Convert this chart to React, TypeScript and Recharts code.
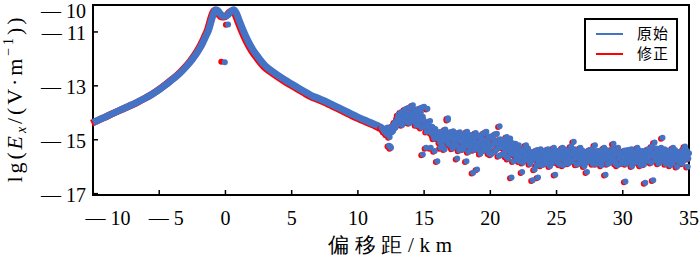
import { ComposedChart, Line, Scatter, XAxis, YAxis, ReferenceArea } from "recharts";

const BLUE = "#4472c4";
const RED = "#ff0000";
const SERIF = '"Liberation Serif", "Times New Roman", Times, "DejaVu Serif", "Noto Serif", serif';

const xTicks = [-10, -5, 0, 5, 10, 15, 20, 25, 30, 35];
const yTicks = [-10, -11, -13, -15, -17];

const seriesNames = ["原始", "修正"];

// smooth near-field part of the curve, [offset km, lg Ex]
const curve: [number, number][] = [
  [-10, -14.36], [-9.5, -14.25], [-9, -14.14], [-8.5, -14.02], [-8, -13.91],
  [-7.5, -13.8], [-7, -13.69], [-6.5, -13.57], [-6, -13.44], [-5.5, -13.3],
  [-5, -13.14], [-4.5, -12.96], [-4, -12.76], [-3.5, -12.56], [-3, -12.31],
  [-2.5, -12.02], [-2, -11.66], [-1.75, -11.44], [-1.5, -11.18], [-1.25, -10.9],
  [-1.05, -10.56], [-0.9, -10.32], [-0.75, -10.18], [-0.6, -10.2], [-0.4, -10.32],
  [-0.2, -10.41], [0, -10.42], [0.2, -10.36], [0.4, -10.24], [0.6, -10.18],
  [0.8, -10.28], [1, -10.52], [1.33, -10.93], [1.7, -11.33], [2.09, -11.67],
  [2.5, -11.95], [3, -12.25], [3.5, -12.45], [4, -12.62], [4.5, -12.78],
  [5, -12.93], [5.5, -13.08], [6, -13.22], [6.5, -13.36], [7, -13.46],
  [7.5, -13.56], [8, -13.68], [8.5, -13.8], [9, -13.92], [9.5, -14.04],
  [10, -14.16], [10.5, -14.27], [11, -14.37], [11.5, -14.48], [11.8, -14.56],
];

const spikesOrig: [number, number][] = [[0.2, -10.72], [-0.05, -12.12]];
const spikesFixed: [number, number][] = [[0.15, -10.7], [-0.2, -12.08]];

const noiseA: [number, number][] = [
  [11.8, -14.55], [11.9, -14.62], [12.0, -14.7], [12.1, -14.58], [12.2, -14.8],
  [12.3, -14.66], [12.35, -15.22], [12.4, -14.9], [12.5, -15.3], [12.55, -14.72],
  [12.6, -14.5], [12.7, -14.62], [12.8, -14.35], [12.9, -14.48], [13.0, -14.2],
  [13.1, -14.4], [13.2, -14.05], [13.3, -14.3], [13.4, -14.12], [13.5, -13.95],
  [13.6, -14.28], [13.7, -14.1], [13.8, -13.82], [13.9, -14.38], [14.0, -14.02],
  [14.1, -13.75], [14.2, -14.2], [14.3, -13.9], [14.4, -14.45], [14.5, -14.05],
  [14.6, -13.85], [14.7, -14.3], [14.8, -14.55], [14.9, -14.15], [15.0, -13.78],
  [15.1, -14.4], [15.2, -14.7], [15.3, -14.35], [15.4, -14.62], [15.5, -15.3],
  [15.6, -14.52], [15.7, -14.85], [15.8, -15.42], [15.9, -14.7], [16.0, -15.8],
];

const noiseA2: [number, number][] = [
  [12.05, -14.62], [12.15, -14.75], [12.25, -14.55], [12.45, -15.25], [12.65, -14.68],
  [12.75, -14.42], [12.85, -14.55], [12.95, -14.3], [13.05, -14.08], [13.15, -14.25],
  [13.25, -13.98], [13.35, -14.45], [13.45, -14.2], [13.55, -13.88], [13.65, -14.05],
  [13.75, -14.35], [13.85, -14.15], [13.95, -13.8], [14.05, -14.3], [14.15, -13.72],
  [14.25, -14.05], [14.35, -14.32], [14.45, -13.92], [14.55, -14.22], [14.65, -14.48],
  [14.75, -13.98], [14.85, -13.8], [14.95, -14.25], [15.05, -14.5], [15.15, -15.3],
  [15.25, -13.85], [15.35, -14.5], [15.45, -14.3], [15.55, -14.75], [15.65, -14.55],
  [15.75, -14.95], [15.85, -14.6], [15.95, -14.82], [14.9, -15.55], [16.8, -14.26],
];

const noiseB: [number, number][] = [
  [16.1, -14.82], [16.2, -15.1], [16.3, -14.7], [16.4, -15.25], [16.5, -14.9],
  [16.6, -14.62], [16.7, -15.05], [16.8, -14.2], [16.9, -14.85], [17.0, -15.2],
  [17.1, -14.95], [17.2, -14.68], [17.3, -15.12], [17.4, -14.8], [17.5, -15.7],
  [17.6, -15.0], [17.7, -14.72], [17.8, -15.28], [17.9, -14.9], [18.0, -15.15],
  [18.1, -14.78], [18.2, -15.8], [18.3, -15.05], [18.4, -14.85], [18.5, -15.3],
  [18.6, -14.95], [18.7, -16.22], [18.8, -15.1], [18.9, -14.75], [19.0, -16.1],
  [19.1, -15.35], [19.2, -14.9], [19.3, -15.18], [19.4, -14.8], [19.5, -15.4],
  [19.6, -15.02], [19.7, -14.7], [19.8, -15.25], [19.9, -15.5], [20.0, -14.95],
  [20.1, -15.2], [20.2, -14.85], [20.3, -15.45], [20.4, -15.05], [20.5, -14.78],
  [20.6, -15.3], [20.7, -14.5], [20.8, -15.12], [20.9, -15.55], [21.0, -15.0],
  [21.1, -15.32], [21.2, -15.62], [21.3, -15.1], [21.4, -15.4], [21.5, -14.95],
  [21.6, -16.4], [21.7, -15.25], [21.8, -15.55], [21.9, -15.15], [22.0, -15.72],
];

const noiseB2: [number, number][] = [
  [16.05, -14.95], [16.15, -14.72], [16.25, -15.3], [16.35, -14.88], [16.45, -15.05],
  [16.55, -15.35], [16.65, -14.8], [16.75, -14.98], [16.85, -15.15], [16.95, -14.72],
  [17.05, -14.9], [17.15, -15.32], [17.25, -15.0], [17.35, -14.75], [17.45, -15.22],
  [17.55, -14.88], [17.65, -15.4], [17.75, -15.05], [17.85, -14.82], [17.95, -15.35],
  [18.05, -14.95], [18.15, -15.22], [18.25, -14.7], [18.35, -15.45], [18.45, -15.1],
  [18.55, -14.82], [18.65, -15.2], [18.75, -15.38], [18.85, -14.92], [18.95, -15.25],
  [19.05, -14.85], [19.15, -15.1], [19.25, -15.52], [19.35, -14.98], [19.45, -15.22],
  [19.55, -14.75], [19.65, -15.35], [19.75, -15.08], [19.85, -14.88], [19.95, -15.3],
  [20.05, -15.55], [20.15, -14.92], [20.25, -15.15], [20.35, -14.8], [20.45, -15.38],
  [20.55, -15.1], [20.65, -15.6], [20.75, -14.98], [20.85, -15.28], [20.95, -15.05],
  [21.05, -15.5], [21.15, -15.18], [21.25, -14.9], [21.35, -15.7], [21.45, -15.3],
  [21.55, -15.52], [21.65, -15.12], [21.75, -15.8], [21.85, -15.38], [21.95, -15.6],
];

const noiseC: [number, number][] = [
  [22.1, -15.35], [22.2, -15.8], [22.3, -15.5], [22.4, -16.2], [22.5, -15.62],
  [22.6, -15.3], [22.7, -15.2], [22.8, -15.75], [22.9, -15.45], [23.0, -15.9],
  [23.1, -15.58], [23.2, -16.5], [23.3, -15.7], [23.4, -15.42], [23.5, -15.95],
  [23.6, -16.4], [23.7, -15.65], [23.8, -15.35], [23.9, -15.82], [24.0, -15.55],
  [24.1, -15.9], [24.2, -15.4], [24.3, -15.72], [24.4, -15.6], [24.5, -15.98],
  [24.6, -15.45], [24.7, -15.75], [24.8, -15.3], [24.9, -16.3], [25.0, -15.62],
  [25.1, -15.85], [25.2, -15.4], [25.3, -15.7], [25.4, -15.52], [25.5, -15.95],
  [25.6, -15.35], [25.7, -15.68], [25.8, -15.5], [25.9, -15.88], [26.0, -15.6],
  [26.1, -15.25], [26.2, -15.78], [26.3, -15.07], [26.4, -15.55], [26.5, -15.92],
  [26.6, -15.42], [26.7, -15.7], [26.8, -15.3], [26.9, -15.85], [27.0, -15.58],
  [27.1, -15.98], [27.2, -15.45], [27.3, -16.2], [27.4, -15.65], [27.5, -15.38],
  [27.6, -15.8], [27.7, -15.52], [27.8, -15.72], [27.9, -15.2], [28.0, -15.9],
];

const noiseC2: [number, number][] = [
  [22.05, -15.5], [22.15, -15.2], [22.25, -15.65], [22.35, -15.4], [22.45, -15.85],
  [22.55, -15.45], [22.65, -15.7], [22.75, -15.55], [22.85, -15.32], [22.95, -15.68],
  [23.05, -15.45], [23.15, -15.78], [23.25, -15.5], [23.35, -16.1], [23.45, -15.62],
  [23.55, -15.38], [23.65, -15.8], [23.75, -15.5], [23.85, -15.95], [23.95, -15.42],
  [24.05, -15.7], [24.15, -15.55], [24.25, -15.85], [24.35, -15.35], [24.45, -15.65],
  [24.55, -15.5], [24.65, -15.88], [24.75, -15.58], [24.85, -15.42], [24.95, -15.75],
  [25.05, -15.45], [25.15, -15.65], [25.25, -15.92], [25.35, -15.5], [25.45, -15.3],
  [25.55, -15.72], [25.65, -15.55], [25.75, -15.85], [25.85, -15.4], [25.95, -15.7],
  [26.05, -15.48], [26.15, -15.8], [26.25, -15.52], [26.35, -15.35], [26.45, -15.68],
  [26.55, -15.58], [26.65, -15.9], [26.75, -15.5], [26.85, -15.62], [26.95, -15.4],
  [27.05, -15.75], [27.15, -15.55], [27.25, -15.85], [27.35, -15.48], [27.45, -15.7],
  [27.55, -15.6], [27.65, -15.35], [27.75, -15.9], [27.85, -15.5], [27.95, -15.65],
];

const noiseD: [number, number][] = [
  [28.1, -15.55], [28.2, -15.75], [28.3, -15.4], [28.4, -15.95], [28.5, -15.62],
  [28.6, -15.3], [28.7, -16.3], [28.8, -15.7], [28.9, -15.48], [29.0, -15.85],
  [29.1, -15.6], [29.2, -15.35], [29.3, -15.15], [29.4, -15.78], [29.5, -15.52],
  [29.6, -15.95], [29.7, -15.42], [29.8, -15.68], [29.9, -15.88], [30.0, -15.5],
  [30.1, -15.72], [30.2, -16.55], [30.3, -15.6], [30.4, -15.38], [30.5, -15.82],
  [30.6, -15.55], [30.7, -15.98], [30.8, -15.45], [30.9, -15.7], [31.0, -15.6],
  [31.1, -15.3], [31.2, -15.85], [31.3, -15.5], [31.4, -15.75], [31.5, -15.42],
  [31.6, -15.92], [31.7, -16.6], [31.8, -15.62], [31.9, -15.35], [32.0, -15.8],
  [32.1, -15.55], [32.2, -15.25], [32.3, -16.5], [32.4, -15.1], [32.5, -15.68],
  [32.6, -15.45], [32.7, -15.88], [32.8, -15.58], [32.9, -15.3], [33.0, -14.93],
  [33.1, -15.72], [33.2, -15.5], [33.3, -15.85], [33.4, -15.4], [33.5, -15.65],
  [33.6, -15.95], [33.7, -15.52], [33.8, -15.3], [33.9, -15.75], [34.0, -15.6],
  [34.1, -16.0], [34.2, -15.45], [34.3, -15.7], [34.4, -15.55], [34.5, -15.88],
  [34.6, -15.35], [34.7, -15.25], [34.8, -15.62], [34.9, -16.0], [35.0, -15.5],
];

const noiseD2: [number, number][] = [
  [28.05, -15.42], [28.15, -15.7], [28.25, -15.58], [28.35, -15.85], [28.45, -15.45],
  [28.55, -15.72], [28.65, -15.55], [28.75, -15.38], [28.85, -15.9], [28.95, -15.6],
  [29.05, -15.45], [29.15, -15.75], [29.25, -15.62], [29.35, -15.4], [29.45, -15.88],
  [29.55, -15.55], [29.65, -15.3], [29.75, -15.7], [29.85, -15.5], [29.95, -15.82],
  [30.05, -15.62], [30.15, -15.4], [30.25, -15.9], [30.35, -15.68], [30.45, -15.52],
  [30.55, -15.78], [30.65, -15.35], [30.75, -15.6], [30.85, -15.85], [30.95, -15.48],
  [31.05, -15.72], [31.15, -15.55], [31.25, -15.4], [31.35, -15.95], [31.45, -15.62],
  [31.55, -15.5], [31.65, -15.8], [31.75, -15.45], [31.85, -15.7], [31.95, -15.58],
  [32.05, -15.38], [32.15, -15.85], [32.25, -15.6], [32.35, -15.48], [32.45, -15.75],
  [32.55, -15.32], [32.65, -15.62], [32.75, -15.5], [32.85, -15.8], [32.95, -15.45],
  [33.05, -15.65], [33.15, -15.35], [33.25, -15.9], [33.35, -15.55], [33.45, -15.72],
  [33.55, -15.42], [33.65, -15.6], [33.75, -15.85], [33.85, -15.5], [33.95, -15.38],
  [34.05, -15.7], [34.15, -15.55], [34.25, -15.82], [34.35, -15.45], [34.45, -15.65],
  [34.55, -15.4], [34.65, -15.75], [34.75, -15.55], [34.85, -15.42], [34.95, -15.7],
];

const toPts = (arr: [number, number][]) => arr.map(([x, y]) => ({ x, y }));

const farField = [
  ...noiseA, ...noiseA2, ...noiseB, ...noiseB2,
  ...noiseC, ...noiseC2, ...noiseD, ...noiseD2,
];

const curveData = toPts(curve);
const noiseOrig = toPts([...farField, ...spikesOrig]);
const noiseFixed = toPts([...farField, ...spikesFixed]);

const fmt = (v: number) => (v < 0 ? "\u2014 " + Math.abs(v) : String(v));

const serifStyle = { fontFamily: SERIF };

const XTick = ({ x, y, payload }: any) => {
  const v = payload.value;
  const shift = v === -10 ? 15 : v < 0 ? 7 : 0;
  return (
    <g>
      <line x1={x} y1={y} x2={x} y2={y - 5} stroke="#000" strokeWidth={1.5} />
      <text x={x + shift} y={y + 30} textAnchor="middle" fontSize={20} style={serifStyle} fill="#000">
        {fmt(v)}
      </text>
    </g>
  );
};

const YTick = ({ x, y, payload }: any) => {
  const v = payload.value;
  const dy = v === -10 ? 13 : 8;
  return (
    <g>
      <line x1={x} y1={y} x2={x + 5} y2={y} stroke="#000" strokeWidth={1.5} />
      <text x={x - 7} y={y + dy} textAnchor="end" fontSize={20} style={serifStyle} fill="#000">
        {fmt(v)}
      </text>
    </g>
  );
};

const YTitle = () => (
  <text
    transform="translate(22, 100) rotate(-90)"
    textAnchor="middle"
    fontSize={22}
    style={serifStyle}
    fill="#000"
    textLength={165}
    lengthAdjust="spacing"
  >
    lg(<tspan fontStyle="italic">E</tspan>
    <tspan fontStyle="italic" fontSize={14} dy={4}>x</tspan>
    <tspan dy={-4}>/(V·m</tspan>
    <tspan fontSize={14} dy={-9}>−1</tspan>
    <tspan dy={9}>))</tspan>
  </text>
);

const XTitle = () => (
  <text x={390} y={252} textAnchor="middle" fontSize={21} style={serifStyle} fill="#000" textLength={124} lengthAdjust="spacing">
    偏移距/km
  </text>
);

const dot = (color: string) => (p: any) => <circle cx={p.cx} cy={p.cy} r={3} fill={color} />;

const App = () => {
  return (
    <div style={{ position: "relative", width: 700, height: 256, background: "#fff" }}>
      <style>{"body{margin:0} .fixShift{transform:translate(-1.5px,0.8px)}"}</style>
      <ComposedChart width={700} height={256} margin={{ top: 5, right: 11, bottom: 0, left: 0 }}>
        <XAxis
          type="number"
          dataKey="x"
          domain={[-10, 35]}
          ticks={xTicks}
          interval={0}
          height={61}
          axisLine={false}
          tickLine={false}
          tickSize={0}
          tickMargin={0}
          tick={<XTick />}
          label={{ content: XTitle }}
        />
        <YAxis
          type="number"
          dataKey="y"
          domain={[-17.05, -10]}
          ticks={yTicks}
          interval={0}
          width={93}
          axisLine={false}
          tickLine={false}
          tickSize={0}
          tickMargin={0}
          tick={<YTick />}
          label={{ content: YTitle }}
        />
        <Line
          className="fixShift"
          data={curveData}
          dataKey="y"
          type="monotone"
          stroke={RED}
          strokeWidth={7}
          dot={false}
          activeDot={false}
          isAnimationActive={false}
          name={seriesNames[1]}
        />
        <Scatter
          className="fixShift"
          data={noiseFixed}
          fill={RED}
          shape={dot(RED)}
          isAnimationActive={false}
          name={seriesNames[1]}
        />
        <Line
          data={curveData}
          dataKey="y"
          type="monotone"
          stroke={BLUE}
          strokeWidth={7}
          dot={false}
          activeDot={false}
          isAnimationActive={false}
          name={seriesNames[0]}
        />
        <Scatter data={noiseOrig} fill={BLUE} shape={dot(BLUE)} isAnimationActive={false} name={seriesNames[0]} />
        <ReferenceArea x1={-10} x2={35} y1={-17.05} y2={-10} fill="none" stroke="#000" strokeWidth={2} />
      </ComposedChart>
      <div
        style={{
          position: "absolute",
          left: 584,
          top: 18,
          width: 90,
          height: 49,
          border: "2px solid #000",
          background: "#fff",
          fontFamily: '"Noto Sans CJK SC", sans-serif',
          fontSize: 15,
        }}
      >
        {[BLUE, RED].map((c, i) => (
          <div key={c} style={{ position: "absolute", left: 0, top: 3 + i * 20, height: 20, width: 90 }}>
            <div style={{ position: "absolute", left: 10, top: 10, width: 27, height: 1.5, background: c }} />
            <span style={{ position: "absolute", left: 51, top: 0, lineHeight: "20px", letterSpacing: 1 }}>
              {seriesNames[i]}
            </span>
          </div>
        ))}
      </div>
    </div>
  );
};

export default App;
